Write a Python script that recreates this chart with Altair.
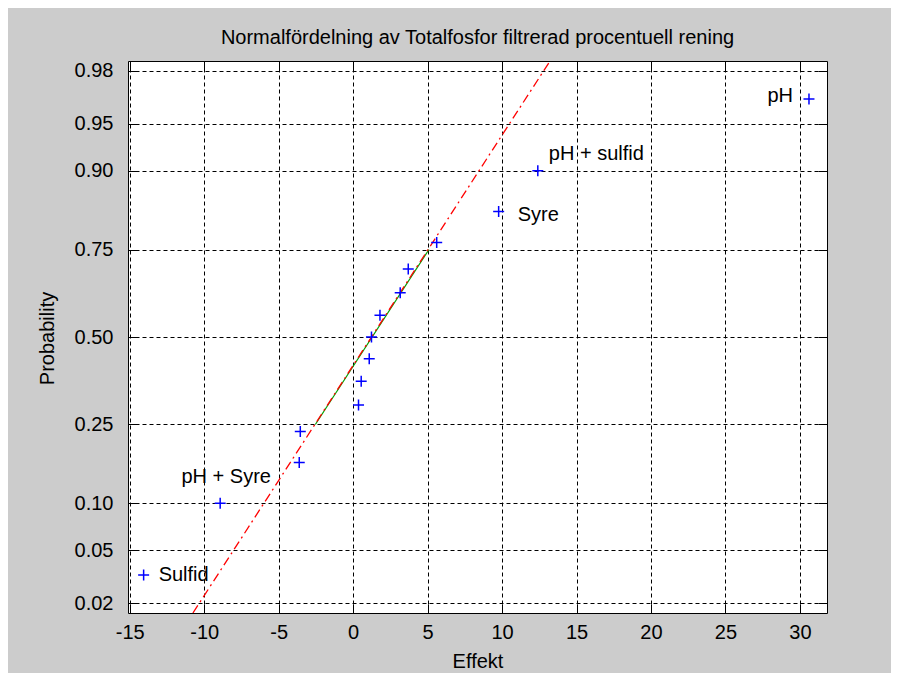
import altair as alt
import pandas as pd
from statistics import NormalDist

# ---- data ----
effekt = [-14.07, -8.93, -3.62, -3.55, 0.36, 0.54, 1.08, 1.23, 1.80, 3.16, 3.70, 5.61, 9.77, 12.40, 30.61]
prob = [0.0333, 0.1000, 0.1667, 0.2333, 0.3000, 0.3667, 0.4333, 0.5000,
        0.5667, 0.6333, 0.7000, 0.7667, 0.8333, 0.9000, 0.9667]
labels = ["Sulfid", "pH + Syre", "", "", "", "", "", "", "", "", "", "", "Syre", "pH + sulfid", "pH"]

fit_solid_x = [-2.54, 5.09]
fit_solid_p = [0.25, 0.75]
fit_dash_x = [-10.76, 13.22]
fit_dash_p = [0.016667, 0.983333]

x_ticks = [-15, -10, -5, 0, 5, 10, 15, 20, 25, 30]
x_domain = [-15.12, 31.82]
prob_ticks = [0.02, 0.05, 0.10, 0.25, 0.50, 0.75, 0.90, 0.95, 0.98]
p_limits = [0.016667, 0.983333]

# ---- styling ----
FONT = "Liberation Sans"
FS = 20
label_style = {
    "Sulfid": ("left", 15, 0),
    "pH + Syre": ("center", 6, -26),
    "Syre": ("left", 19, 3),
    "pH + sulfid": ("left", 11, -17),
    "pH": ("right", -16, -3),
}

nd = NormalDist()
to_z = lambda p: nd.inv_cdf(p)

pts = pd.DataFrame({"effekt": effekt, "p": prob, "label": labels})
pts["z"] = [to_z(p) for p in prob]
solid = pd.DataFrame({"effekt": fit_solid_x, "z": [to_z(p) for p in fit_solid_p]})
dash = pd.DataFrame({"effekt": fit_dash_x, "z": [to_z(p) for p in fit_dash_p]})

x_scale = alt.Scale(domain=x_domain, nice=False, zero=False)
y_scale = alt.Scale(domain=[to_z(p_limits[0]), to_z(p_limits[1])], nice=False, zero=False)
y_tick_z = [to_z(p) for p in prob_ticks]
y_label_expr = "format(cumulativeNormal(datum.value), '.2f')"
x_label_expr = "datum.value < 0 ? '-' + abs(datum.value) : '' + datum.value"

TICK = 9


def tick_axis(orient, values):
    return alt.Axis(orient=orient, values=values, labels=False, grid=False, domain=False,
                    tickSize=TICK, tickColor="black", tickWidth=1, offset=-TICK, title=None)


main_x = alt.Axis(orient="bottom", values=x_ticks, labelExpr=x_label_expr, grid=True, gridDash=[4, 3],
                  gridColor="black", gridOpacity=1, gridWidth=1, tickSize=0, domain=False, labelPadding=9,
                  labelFont=FONT, labelFontSize=FS, labelColor="black",
                  titleFont=FONT, titleFontSize=FS, titleFontWeight="normal", titleColor="black",
                  titleY=48, titleBaseline="middle")
main_y = alt.Axis(orient="left", values=y_tick_z, labelExpr=y_label_expr, grid=True, gridDash=[4, 3],
                  gridColor="black", gridOpacity=1, gridWidth=1, tickSize=0, domain=False,
                  labelPadding=15, labelFont=FONT, labelFontSize=FS, labelColor="black",
                  titleFont=FONT, titleFontSize=FS, titleFontWeight="normal", titleColor="black",
                  titleX=-81, titleY=277, titleBaseline="middle", titleAngle=-90)

green = alt.Chart(solid).mark_line(color="#00a000", strokeWidth=1.2).encode(
    x=alt.X("effekt:Q", scale=x_scale, axis=main_x, title="Effekt"),
    y=alt.Y("z:Q", scale=y_scale, axis=main_y, title="Probability"),
)

red = alt.Chart(dash).mark_line(color="#ff0000", strokeWidth=1.3, strokeDash=[9, 4, 2, 4], clip=True).encode(
    x=alt.X("effekt:Q", scale=x_scale, axis=tick_axis("bottom", x_ticks)),
    y=alt.Y("z:Q", scale=y_scale, axis=tick_axis("left", y_tick_z)),
)

points = alt.Chart(pts).mark_point(
    shape="M-1,0L1,0M0,-1L0,1", size=121, filled=False, color="#0000ff", strokeWidth=1.5, opacity=1
).encode(
    x=alt.X("effekt:Q", scale=x_scale, axis=tick_axis("top", x_ticks)),
    y=alt.Y("z:Q", scale=y_scale, axis=tick_axis("right", y_tick_z)),
)

texts = []
for name, (align, dx, dy) in label_style.items():
    texts.append(
        alt.Chart(pts).transform_filter(alt.datum.label == name).mark_text(
            align=align, dx=dx, dy=dy, baseline="middle", font=FONT, fontSize=FS, color="black"
        ).encode(
            x=alt.X("effekt:Q", scale=x_scale, axis=None),
            y=alt.Y("z:Q", scale=y_scale, axis=None),
            text="label:N",
        )
    )

chart = alt.layer(green, red, points, *texts).resolve_axis(
    x="independent", y="independent"
).properties(
    width=699,
    height=552,
    autosize=alt.AutoSizeParams(type="none"),
    padding={"left": 120, "top": 53, "right": 64, "bottom": 60},
    title=alt.TitleParams(
        "Normalfördelning av Totalfosfor filtrerad procentuell rening",
        font=FONT, fontSize=FS, fontWeight="normal", color="black", anchor="middle",
        baseline="alphabetic", offset=17, dy=20,
    ),
).configure(
    background="#cccccc",
).configure_view(
    fill="white", stroke="black", strokeWidth=1,
)

chart.save("out.html", embed_options={"renderer": "svg", "actions": False})
